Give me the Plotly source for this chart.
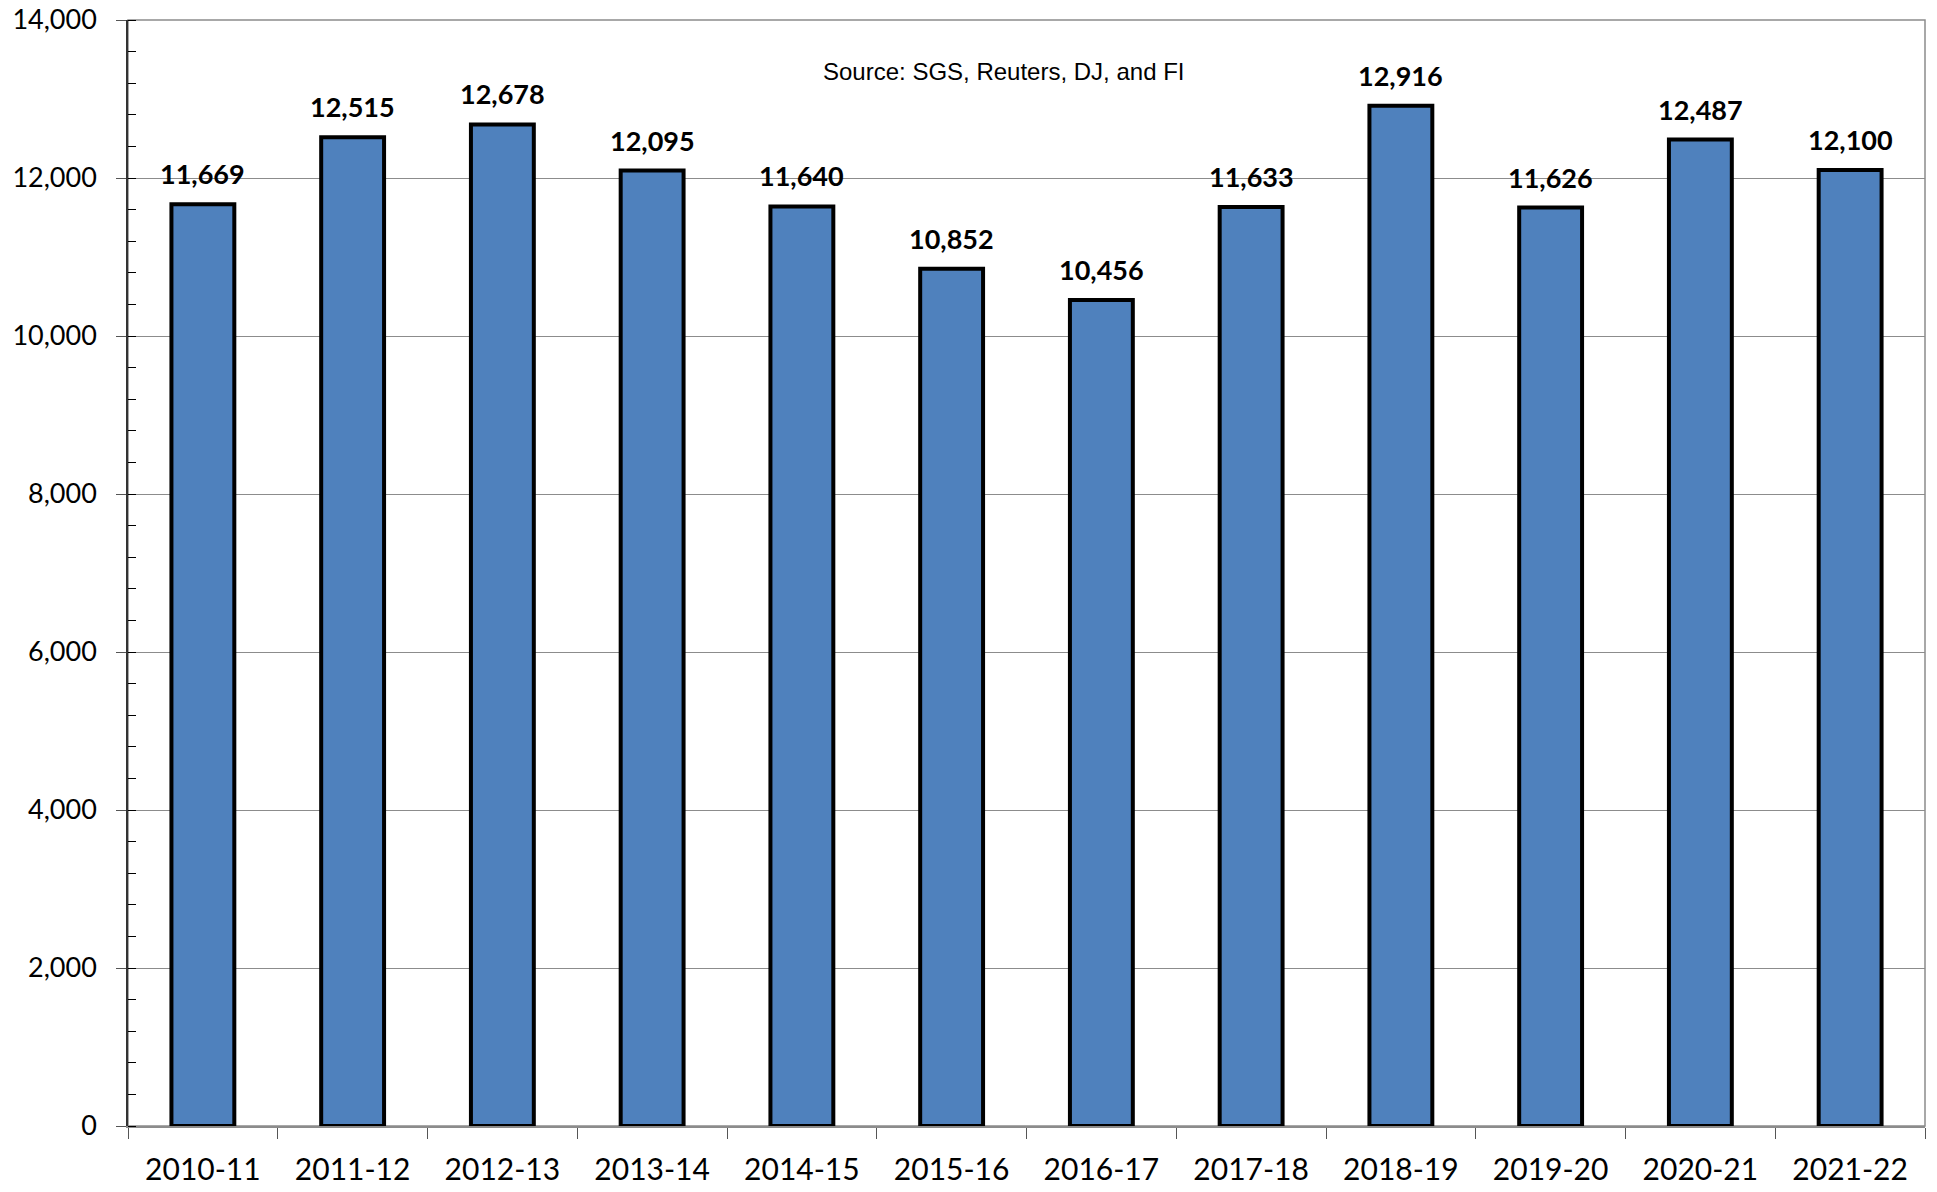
import plotly.graph_objects as go

# Marketing years and values
seasons = ["2010-11", "2011-12", "2012-13", "2013-14", "2014-15", "2015-16",
           "2016-17", "2017-18", "2018-19", "2019-20", "2020-21", "2021-22"]
values = [11669, 12515, 12678, 12095, 11640, 10852,
          10456, 11633, 12916, 11626, 12487, 12100]
y_ticks = [0, 2000, 4000, 6000, 8000, 10000, 12000, 14000]
source_note = "Source: SGS, Reuters, DJ, and FI"

BAR_BLUE = "#4F81BD"
GRID = "#8c8c8c"
FONT = "Lato, 'Open Sans', sans-serif"

fig = go.Figure()
fig.add_trace(go.Bar(
    x=seasons,
    y=values,
    width=0.42,
    marker=dict(color=BAR_BLUE, line=dict(color="black", width=4)),
    hoverinfo="x+y",
))

# Value labels above each bar
for s, v in zip(seasons, values):
    fig.add_annotation(
        x=s, y=v, text=f"<b>{v:,}</b>", showarrow=False,
        yanchor="bottom", yshift=12,
        font=dict(family=FONT, size=27, color="black"),
    )

fig.add_annotation(
    x=0.487, y=0.967, xref="paper", yref="paper",
    text=source_note, showarrow=False,
    font=dict(family="Liberation Sans, Arial, sans-serif", size=24, color="black"),
)

# Plot frame (top and right edges)
fig.add_shape(type="rect", xref="paper", yref="paper", x0=0, y0=0, x1=1, y1=1,
              line=dict(color=GRID, width=1.5), layer="below")

fig.update_layout(
    width=1937, height=1192,
    margin=dict(l=128, r=12, t=20, b=66),
    paper_bgcolor="white", plot_bgcolor="white",
    showlegend=False,
    bargap=0.58,
    font=dict(family=FONT, color="black"),
    xaxis=dict(
        type="category",
        automargin=False,
        showgrid=False,
        showline=True, linecolor=GRID, linewidth=1.5,
        ticks="outside", tickson="boundaries", ticklen=11, tickcolor="#555555",
        tickfont=dict(family=FONT, size=30, color="black"),
        ticklabelstandoff=16,
        range=[-0.5, len(seasons) - 0.5],
    ),
    yaxis=dict(
        automargin=False,
        range=[0, 14000],
        tickvals=y_ticks,
        tickformat=",",
        showgrid=True, gridcolor=GRID, gridwidth=1,
        zeroline=False,
        showline=True, linecolor="#333333", linewidth=1.5,
        ticks="outside", ticklen=10, tickcolor="#555555",
        tickfont=dict(family=FONT, size=27, color="black"),
        ticklabelstandoff=14,
        minor=dict(dtick=400, ticks="inside", ticklen=8, tickcolor="black",
                   showgrid=False),
    ),
)

fig.write_html("out.html")
